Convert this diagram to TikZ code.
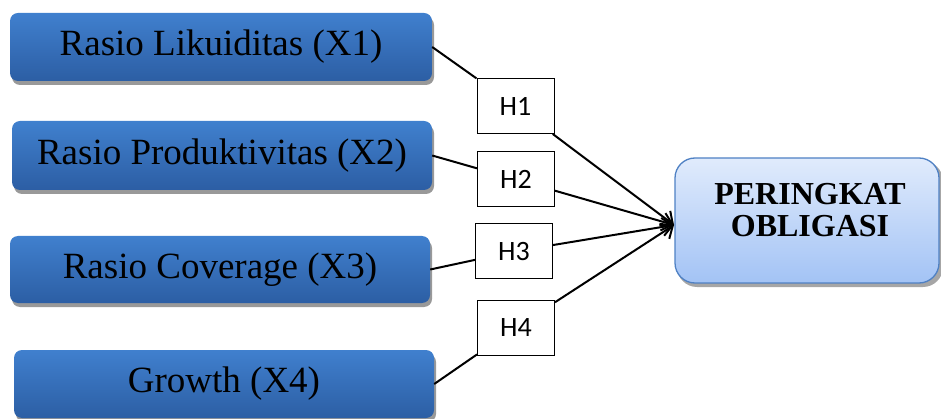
\documentclass[tikz,border=0pt]{standalone}
\usepackage{fontspec}
\setmainfont{Liberation Serif}
\newfontfamily\hfont{Carlito}
\usetikzlibrary{arrows.meta,calc}
\definecolor{bluetop}{RGB}{64,128,206}
\definecolor{bluebot}{RGB}{44,94,164}
\definecolor{lighttop}{RGB}{224,235,252}
\definecolor{lightbot}{RGB}{163,195,245}
\definecolor{lightborder}{RGB}{79,129,196}
\tikzset{
  bluebox/.style={rounded corners=8pt, top color=bluetop, bottom color=bluebot,
    draw=none, font=\fontsize{37}{42}\selectfont, inner sep=0pt},
  shadowbox/.style={rounded corners=8pt, fill=black!40, draw=none},
  hbox/.style={draw=black, line width=1pt, fill=white, minimum width=77pt,
    minimum height=55pt, inner sep=0pt, font=\hfont\fontsize{28}{30}\selectfont},
  conn/.style={line width=2pt, black},
  arr/.style={conn, -{Straight Barb[length=10pt,width=18pt,line width=2pt]}},
}
\begin{document}
\begin{tikzpicture}[x=1pt,y=-1pt]
\useasboundingbox (0,0) rectangle (941,419);
% shadows
\fill[shadowbox] (12,17) rectangle (434,85);
\fill[shadowbox] (14,125) rectangle (434,194);
\fill[shadowbox] (12,240) rectangle (432,307);
\fill[shadowbox] (16,354) rectangle (436,422);
\fill[rounded corners=20pt, black!35] (677,161) rectangle (943,287);
% source boxes
\node[bluebox, minimum width=422pt, minimum height=68pt] (x1) at (221,47) {Rasio Likuiditas (X1)};
\node[bluebox, minimum width=420pt, minimum height=69pt] (x2) at (222,155.5) {Rasio Produktivitas (X2)};
\node[bluebox, minimum width=420pt, minimum height=67pt] (x3) at (220,269.5) {Rasio Coverage (X3)};
\node[bluebox, minimum width=420pt, minimum height=68pt] (x4) at (224,384) {Growth (X4)};
% target
\node[rounded corners=20pt, top color=lighttop, bottom color=lightbot, draw=lightborder,
  line width=1.3pt, minimum width=264pt, minimum height=125pt, inner sep=0pt] (t) at (807,220.5) {};
\node[align=center, inner sep=0pt, font=\bfseries\fontsize{32}{32}\selectfont] (tl) at (810,210)
  {PERINGKAT\\OBLIGASI};
\coordinate (tip) at (674,225);
% hypothesis boxes
\node[hbox] (h1) at (515.5,106) {H1};
\node[hbox] (h2) at (516,179.5) {H2};
\node[hbox] (h3) at (514,251.5) {H3};
\node[hbox] (h4) at (516,327.5) {H4};
% connectors
\draw[conn] (x1.east) -- (h1);
\draw[conn] (x2.east) -- (h2);
\draw[conn] (x3.east) -- (h3);
\draw[conn] (x4.east) -- (h4);
\draw[arr] (h1) -- (tip);
\draw[arr] (h2) -- (tip);
\draw[arr] (h3) -- (tip);
\draw[arr] (h4) -- (tip);
\end{tikzpicture}
\end{document}
